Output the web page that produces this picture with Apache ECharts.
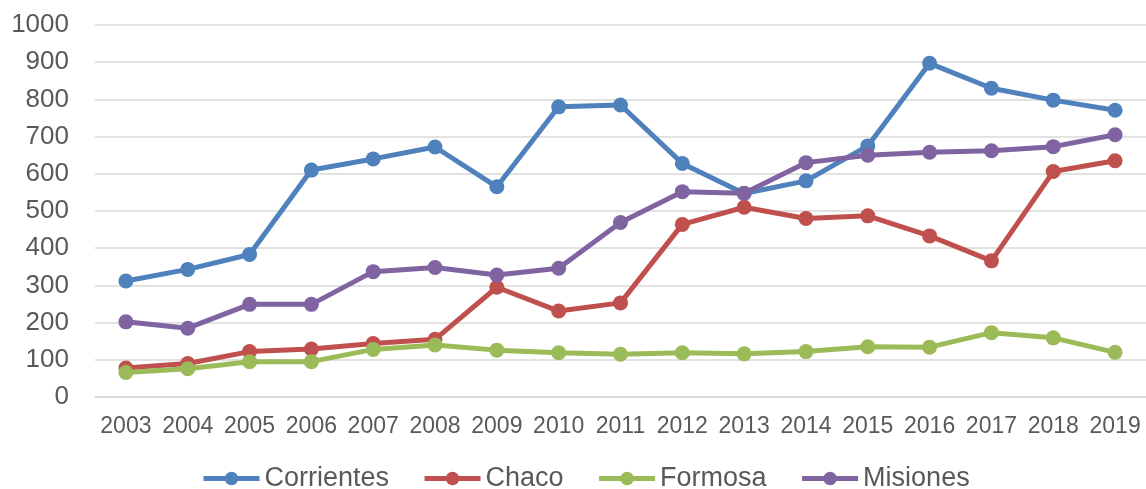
<!DOCTYPE html>
<html>
<head>
<meta charset="utf-8">
<script src="https://cdn.jsdelivr.net/npm/echarts@6/dist/echarts.min.js"></script>
<style>
html,body{margin:0;padding:0;background:#fff;}
#chart{width:1146px;height:489px;}
</style>
</head>
<body>
<div id="chart"></div>
<script>
const years = ['2003','2004','2005','2006','2007','2008','2009','2010','2011','2012','2013','2014','2015','2016','2017','2018','2019'];
const corrientes = [312,343,383,610,640,672,565,780,785,628,547,581,675,897,830,798,771];
const chaco = [78,90,122,129,144,155,295,231,253,464,510,480,487,433,366,606,635];
const formosa = [66,76,95,95,128,140,126,119,115,119,116,122,135,134,173,159,120];
const misiones = [202,185,249,249,337,348,328,346,469,552,548,630,650,658,662,673,705];
const yTicks = {min:0, max:1000, interval:100};

const colors = ['#4F81BD','#C0504D','#9BBB59','#8064A2'];
const names = ['Corrientes','Chaco','Formosa','Misiones'];
const datas = [corrientes, chaco, formosa, misiones];

const chart = echarts.init(document.getElementById('chart'));
chart.setOption({
  animation:false,
  color: colors,
  textStyle:{fontFamily:'Liberation Sans, Arial, sans-serif'},
  grid:{left:95, right:0, top:25, bottom:92, containLabel:false},
  legend:{
    left:196, top:460, itemWidth:56, itemHeight:17, itemGap:33,
    lineStyle:{width:5},
    textStyle:{fontSize:27, color:'#595959', fontFamily:'Liberation Sans, Arial, sans-serif'},
    data:names
  },
  xAxis:{
    type:'category', data:years, boundaryGap:true,
    axisLine:{show:true, lineStyle:{color:'#D9D9D9', width:1.5}},
    axisTick:{show:false},
    axisLabel:{interval:0, fontSize:23, color:'#595959', margin:18}
  },
  yAxis:{
    type:'value', min:yTicks.min, max:yTicks.max, interval:yTicks.interval,
    axisLine:{show:false}, axisTick:{show:false},
    splitLine:{lineStyle:{color:'#D9D9D9', width:1.5}},
    axisLabel:{fontSize:26, color:'#595959', margin:26, formatter:(v)=>String(v)}
  },
  series: names.map((n,i)=>({
    name:n, type:'line', data:datas[i],
    symbol:'circle', symbolSize:15,
    lineStyle:{width:5, color:colors[i]},
    itemStyle:{color:colors[i]}
  }))
});
</script>
</body>
</html>
